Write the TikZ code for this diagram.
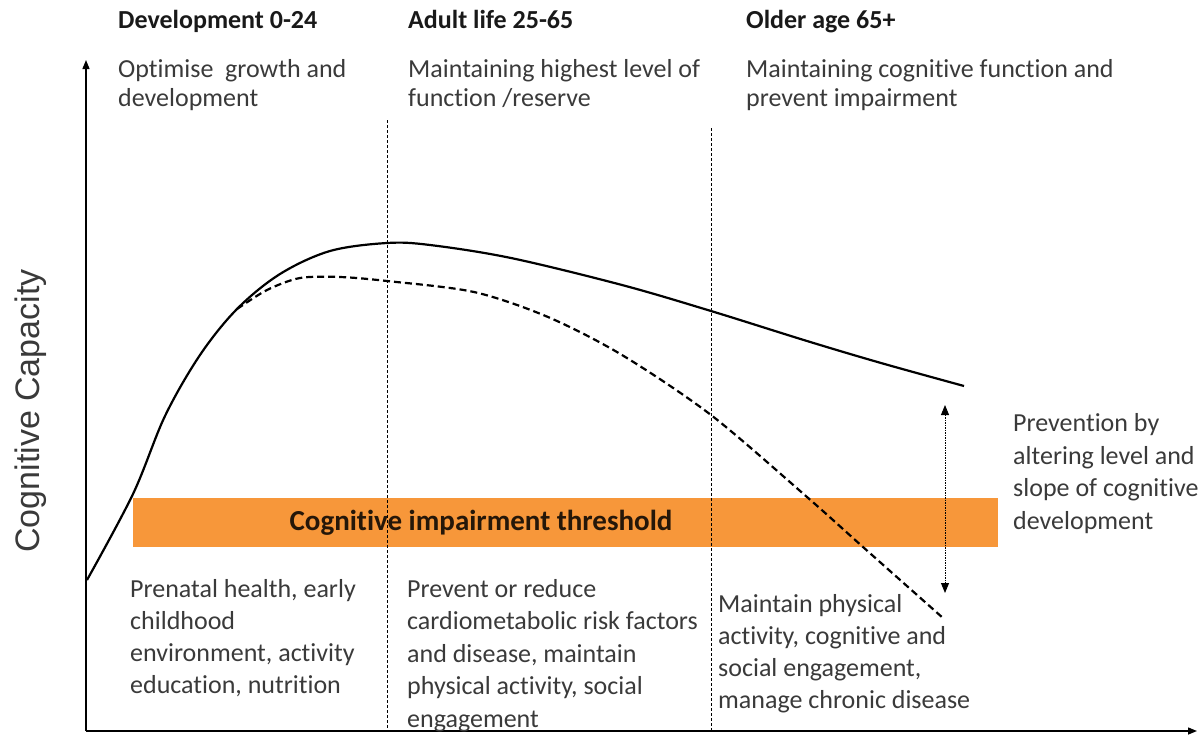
\documentclass[tikz,border=0pt]{standalone}
\usepackage{fontspec}
\setmainfont{Carlito}[Ligatures=NoCommon]
\newfontfamily\arialf{Liberation Sans}
\usetikzlibrary{arrows.meta}
\definecolor{barorange}{HTML}{F7973A}
\definecolor{txtgray}{HTML}{3A3A3A}
\tikzset{
  hdr/.style={anchor=base west, inner sep=0pt, font=\fontsize{26}{29}\selectfont\bfseries, text=black!90},
  body/.style={anchor=base west, inner sep=0pt, align=left, font=\fontsize{26}{32}\selectfont, text=txtgray},
  bodytop/.style={body, font=\fontsize{26}{29}\selectfont},
  bodywide/.style={body, font=\fontsize{26}{32.5}\selectfont},
  axisline/.style={line width=1.4pt, -{Triangle[width=7pt,length=9pt]}},
  divider/.style={line width=0.8pt, dash pattern=on 3pt off 2pt},
  curve/.style={line width=2.2pt},
  dcurve/.style={line width=2.2pt, dash pattern=on 7pt off 4pt},
  darrow/.style={line width=0.9pt, dash pattern=on 1.5pt off 1pt, {Triangle[width=8pt,length=10pt]}-{Triangle[width=8pt,length=10pt]}}
}
\begin{document}
\begin{tikzpicture}[x=1pt,y=-1pt]
\useasboundingbox (0,0) rectangle (1202,739);
% orange bar
\node[fill=barorange, minimum width=865pt, minimum height=49pt, inner sep=0pt, anchor=north west] (bar) at (133,498) {};
\node[font=\fontsize{29}{32}\selectfont\bfseries, text=black!85!barorange, inner sep=0pt] (barlbl) at (481,523) {Cognitive impairment threshold};
% axes
\coordinate (origin) at (86,731);
\coordinate (ytop) at (86,60);
\coordinate (xend) at (1197,731);
\draw[axisline] (origin) -- (ytop);
\draw[axisline] (origin) -- (xend);
% dividers
\coordinate (d1t) at (387,120);
\coordinate (d1b) at (387,731);
\coordinate (d2t) at (711,128);
\coordinate (d2b) at (711,731);
\draw[divider] (d1t) -- (d1b);
\draw[divider] (d2t) -- (d2b);
% curves
\draw[curve] plot[smooth, tension=0.55] coordinates {(87,580) (133,494) (165,416) (200,355) (237,309) (280,274) (330,251) (387,243) (430,245) (511,258) (622,285) (711,311) (807,341) (881,363) (964,386)};
\draw[dcurve] plot[smooth, tension=0.5] coordinates {(237,309) (267,290) (300,278) (340,277) (387,281) (474,292) (548,317) (622,355) (711,415) (807,497) (863,547) (943,618)};
% double arrow
\coordinate (aT) at (945,405);
\coordinate (aB) at (945,593);
\draw[darrow] (aT) -- (aB);
% headers
\node[hdr] (h1) at (118,28) {Development 0-24};
\node[hdr] (h2) at (408,28) {Adult life 25-65};
\node[hdr] (h3) at (746,28) {Older age 65+};
% sub headers (anchored at the baseline of the last line)
\node[bodytop] (s1) at (118,106) {Optimise\ \ growth and\\development};
\node[bodytop] (s2) at (408,106) {Maintaining highest level of\\function /reserve};
\node[bodytop] (s3) at (746,106) {Maintaining cognitive function and\\prevent impairment};
% bottom texts
\node[body] (b1) at (130,693) {Prenatal health, early\\childhood\\environment, activity\\education, nutrition};
\node[bodywide] (b2) at (407,727) {Prevent or reduce\\cardiometabolic risk factors\\and disease, maintain\\physical activity, social\\engagement};
\node[body] (b3) at (718,708) {Maintain physical\\activity, cognitive and\\social engagement,\\manage chronic disease};
\node[bodywide] (r1) at (1013,529) {Prevention by\\altering level and\\slope of cognitive\\development};
% y label
\node[rotate=90, font=\arialf\fontsize{34}{38}\selectfont, text=txtgray, inner sep=0pt] (ylbl) at (31,411) {Cognitive Capacity};
\end{tikzpicture}
\end{document}
